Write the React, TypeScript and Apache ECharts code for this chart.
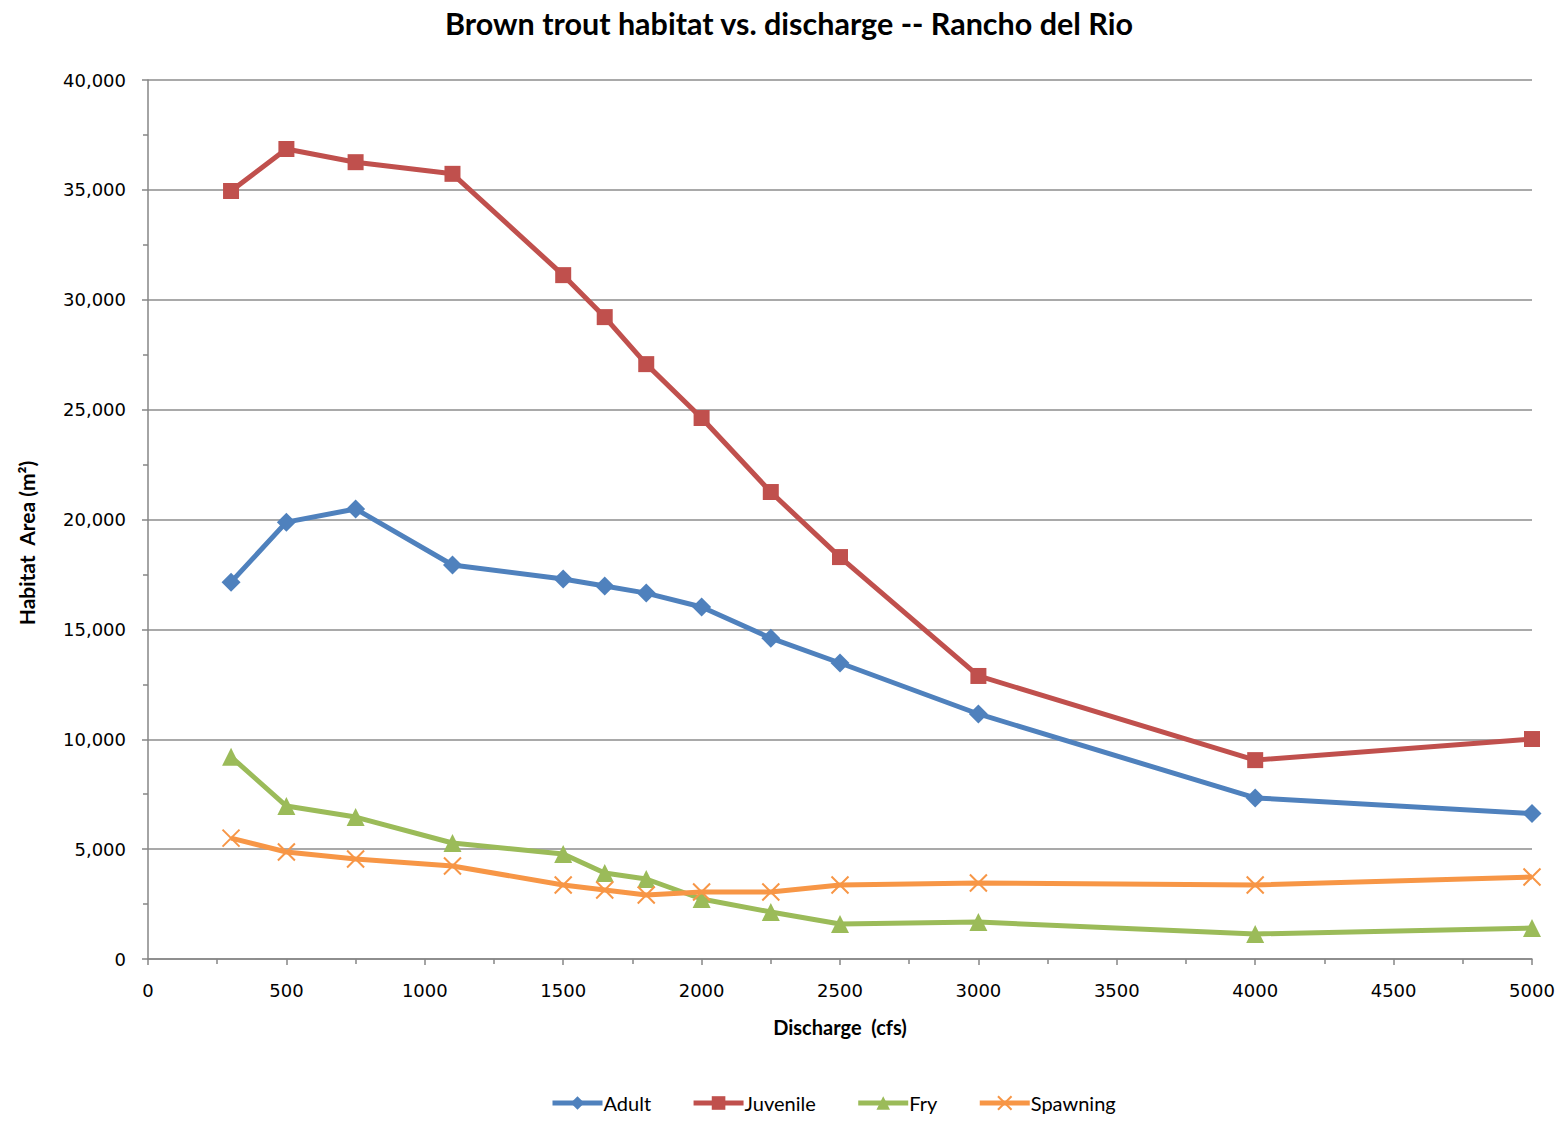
import React, { useEffect, useRef } from "react";
import * as echarts from "echarts";

const discharge = [300, 500, 750, 1100, 1500, 1650, 1800, 2000, 2250, 2500, 3000, 4000, 5000];
const adult = [17150, 19880, 20480, 17930, 17290, 16970, 16650, 16020, 14600, 13470, 11150, 7330, 6620];
const juvenile = [34950, 36860, 36260, 35730, 31120, 29210, 27070, 24620, 21250, 18290, 12880, 9050, 10010];
const fry = [9200, 6960, 6460, 5280, 4780, 3910, 3640, 2730, 2140, 1590, 1680, 1140, 1410];
const spawning = [5500, 4870, 4550, 4230, 3370, 3140, 2910, 3050, 3050, 3370, 3460, 3370, 3730];

const seriesNames = ["Adult", "Juvenile", "Fry", "Spawning"];
const seriesColors = ["#4F81BD", "#C0504D", "#9BBB59", "#F79646"];

const xMin = 0;
const xMax = 5000;
const xInterval = 500;
const yMin = 0;
const yMax = 40000;
const yInterval = 5000;

const crossSymbol = "path://M0,0L10,10M10,0L0,10";

export default function App() {
  const ref = useRef<HTMLDivElement>(null);
  useEffect(() => {
    if (!ref.current) return;
    const chart = echarts.init(ref.current, null, { renderer: "svg" });
    const pair = (vals: number[]) => discharge.map((x, i) => [x, vals[i]]);
    const data = [adult, juvenile, fry, spawning];
    const symbols = ["diamond", "rect", "triangle", crossSymbol];
    const sizes = [19, 16, 18, 17];
    const axisGray = "#868686";
    chart.setOption({
      animation: false,
      backgroundColor: "#ffffff",
      title: {
        text: "Brown trout habitat vs. discharge -- Rancho del Rio",
        left: 784,
        top: 2,
        textAlign: "center",
        textStyle: { fontFamily: "Lato", fontWeight: "bold", fontSize: 30.5, color: "#000" },
      },
      legend: {
        bottom: 4,
        left: 545,
        itemWidth: 50,
        itemHeight: 17,
        itemGap: 40,
        lineStyle: { width: 5 },
        textStyle: { fontFamily: "Lato", fontSize: 20, color: "#000", padding: [0, 0, 0, -4] },
        data: seriesNames,
      },
      grid: { left: 148, right: 32, top: 80, bottom: 163, containLabel: false },
      xAxis: {
        type: "value",
        min: xMin,
        max: xMax,
        interval: xInterval,
        name: "Discharge  (cfs)",
        nameLocation: "middle",
        nameGap: 58,
        nameTextStyle: { fontFamily: "Lato", fontWeight: "bold", fontSize: 20, color: "#000" },
        axisLine: { show: true, lineStyle: { color: axisGray, width: 1.5 } },
        axisTick: { show: true, length: 6, lineStyle: { color: axisGray, width: 1.5 } },
        minorTick: { show: true, splitNumber: 2, length: 5, lineStyle: { color: axisGray, width: 1.5 } },
        axisLabel: {
          fontFamily: "DejaVu Sans",
          fontSize: 18,
          color: "#000",
          margin: 22,
          formatter: (v: number) => String(v),
        },
        splitLine: { show: false },
      },
      yAxis: {
        type: "value",
        min: yMin,
        max: yMax,
        interval: yInterval,
        axisLine: { show: true, lineStyle: { color: axisGray, width: 1.5 } },
        axisTick: { show: true, length: 6, lineStyle: { color: axisGray, width: 1.5 } },
        minorTick: { show: true, splitNumber: 2, length: 5, lineStyle: { color: axisGray, width: 1.5 } },
        axisLabel: {
          fontFamily: "DejaVu Sans",
          fontSize: 18,
          color: "#000",
          margin: 22,
          formatter: (v: number) => v.toLocaleString("en-US"),
        },
        splitLine: { show: true, lineStyle: { color: "#8c8c8c", width: 1.5 } },
      },
      graphic: [
        {
          type: "text",
          x: 26,
          y: 543,
          rotation: Math.PI / 2,
          style: {
            text: "Habitat  Area (m²)",
            fontFamily: "Lato",
            fontWeight: "bold",
            fontSize: 21,
            fill: "#000",
            textAlign: "center",
            textVerticalAlign: "middle",
          },
        },
      ],
      series: seriesNames.map((name, i) => ({
        name,
        type: "line",
        data: pair(data[i]),
        symbol: symbols[i],
        symbolSize: sizes[i],
        showSymbol: true,
        lineStyle: { color: seriesColors[i], width: 5 },
        itemStyle:
          i === 3
            ? { color: "none", borderColor: seriesColors[i], borderWidth: 2 }
            : { color: seriesColors[i], borderColor: seriesColors[i], borderWidth: 0 },
        emphasis: { disabled: true },
        z: 2 + i,
      })),
    });
    return () => chart.dispose();
  }, []);
  return (
    <div
      ref={ref}
      style={{ position: "absolute", left: 0, top: 0, width: 1564, height: 1122 }}
    />
  );
}
